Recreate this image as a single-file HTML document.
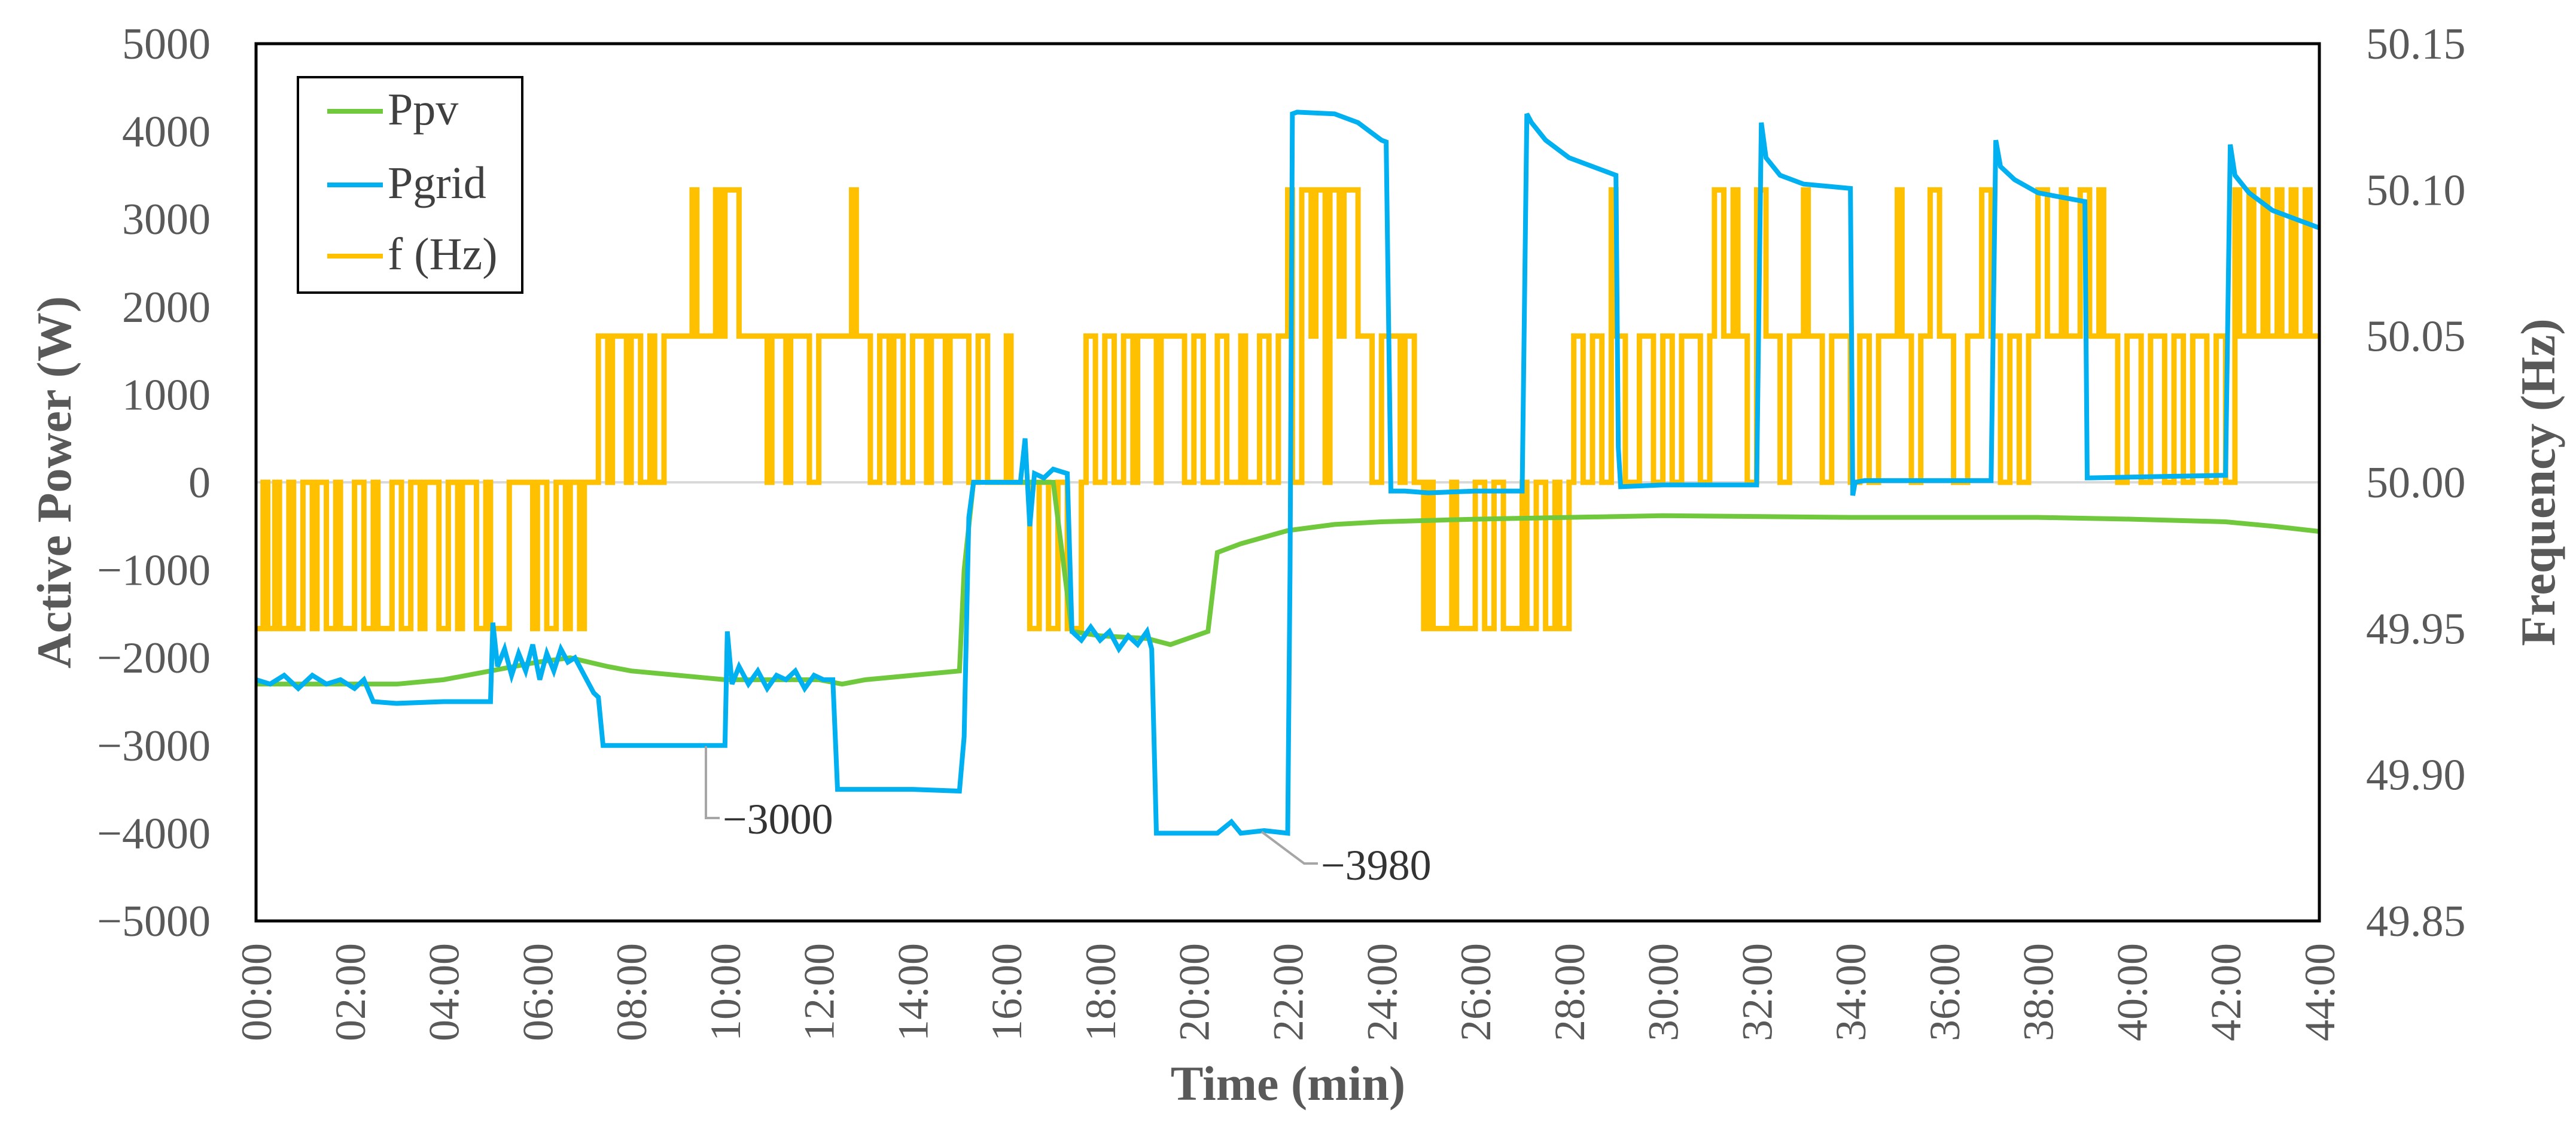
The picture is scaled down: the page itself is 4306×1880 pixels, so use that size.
<!DOCTYPE html>
<html><head><meta charset="utf-8"><style>
html,body{margin:0;padding:0;background:#fff;}
svg{display:block;font-family:"Liberation Serif",serif;}
</style></head><body>
<svg id="chart" width="4306" height="1880" viewBox="0 0 4306 1880" xmlns="http://www.w3.org/2000/svg">
<g id="grid"></g>
<g id="series"></g>
<rect x="428" y="73" width="3449" height="1466" fill="none" stroke="#000" stroke-width="5"/>
<g id="ticks" font-size="74" fill="#595959"></g>
<text transform="translate(118,806) rotate(-90)" text-anchor="middle" font-size="82" font-weight="bold" fill="#595959">Active Power (W)</text>
<text transform="translate(4270,806) rotate(-90)" text-anchor="middle" font-size="82" font-weight="bold" fill="#595959">Frequency (Hz)</text>
<text x="2153" y="1838" text-anchor="middle" font-size="82" font-weight="bold" fill="#595959">Time (min)</text>
<g>
<polyline points="1180,1247 1180,1367 1203,1367" fill="none" stroke="#a6a6a6" stroke-width="4"/>
<text x="1208" y="1393" font-size="72" fill="#333">−3000</text>
</g>
<g>
<polyline points="2109,1390 2180,1443 2203,1443" fill="none" stroke="#a6a6a6" stroke-width="4"/>
<text x="2208" y="1470" font-size="72" fill="#333">−3980</text>
</g>
<g>
<rect x="498" y="129" width="375" height="360" fill="#fff" stroke="#000" stroke-width="4"/>
<g><line x1="547" y1="186" x2="640" y2="186" stroke="#70C83C" stroke-width="8"/><text x="648" y="208" font-size="76" fill="#404040">Ppv</text></g>
<g><line x1="547" y1="309" x2="640" y2="309" stroke="#00B0F0" stroke-width="8"/><text x="648" y="331" font-size="76" fill="#404040">Pgrid</text></g>
<g><line x1="547" y1="428" x2="640" y2="428" stroke="#FFC000" stroke-width="8"/><text x="648" y="450" font-size="76" fill="#404040">f (Hz)</text></g>
</g>
</svg>
<script>
const powerTicks = [5000,4000,3000,2000,1000,0,-1000,-2000,-3000,-4000,-5000];
const powerTickLabels = ["5000","4000","3000","2000","1000","0","\u22121000","\u22122000","\u22123000","\u22124000","\u22125000"];
const freqTicks = [50.15,50.10,50.05,50.00,49.95,49.90,49.85];
const freqTickLabels = ["50.15","50.10","50.05","50.00","49.95","49.90","49.85"];
const timeTicks = [0,2,4,6,8,10,12,14,16,18,20,22,24,26,28,30,32,34,36,38,40,42,44];
const timeTickLabels = ["00:00","02:00","04:00","06:00","08:00","10:00","12:00","14:00","16:00","18:00","20:00","22:00","24:00","26:00","28:00","30:00","32:00","34:00","36:00","38:00","40:00","42:00","44:00"];

const ppvT = [0,1,2,3,4,5,6,6.7,7.5,8,9,10,11,12,12.5,13,14,15,15.1,15.3,17,17.4,18,19,19.5,20.3,20.5,21,22,23,24,26,28,30,32,34,36,38,40,42,43,44];
const ppvV = [-2300,-2300,-2300,-2300,-2250,-2150,-2050,-2000,-2100,-2150,-2200,-2250,-2250,-2250,-2300,-2250,-2200,-2150,-1000,0,0,-1700,-1750,-1780,-1850,-1700,-800,-700,-550,-480,-450,-420,-400,-380,-390,-400,-400,-400,-420,-450,-500,-560];

const gridT = [0,0.3,0.6,0.9,1.2,1.5,1.8,2.1,2.3,2.5,3,4,5,5.05,5.15,5.3,5.45,5.6,5.75,5.9,6.05,6.2,6.35,6.5,6.65,6.8,7.0,7.15,7.2,7.3,7.4,8,9,10,10.05,10.15,10.3,10.5,10.7,10.9,11.1,11.3,11.5,11.7,11.9,12.1,12.3,12.4,13,14,15,15.1,15.2,15.3,16,16.3,16.4,16.5,16.6,16.8,17,17.3,17.4,17.6,17.8,18,18.2,18.4,18.6,18.8,19.0,19.1,19.2,19.5,20,20.5,20.8,21,21.5,22,22.05,22.1,22.2,23,23.5,24,24.1,24.2,24.5,25,26,27,27.1,27.2,27.5,28,28.5,29,29.05,29.1,30,31,32,32.1,32.2,32.5,33,34,34.05,34.1,34.3,35,36,37,37.1,37.2,37.5,38,38.5,39,39.05,39.1,40,41,42,42.1,42.2,42.5,43,43.5,44];
const gridV = [-2250,-2300,-2200,-2350,-2200,-2300,-2250,-2350,-2250,-2500,-2520,-2500,-2500,-1600,-2100,-1900,-2200,-1950,-2150,-1850,-2250,-1950,-2150,-1900,-2050,-2000,-2200,-2350,-2400,-2450,-3000,-3000,-3000,-3000,-1700,-2300,-2100,-2300,-2150,-2350,-2200,-2250,-2150,-2350,-2200,-2250,-2250,-3500,-3500,-3500,-3520,-2900,-400,0,0,0,500,-500,100,50,150,100,-1700,-1800,-1650,-1800,-1700,-1900,-1750,-1850,-1700,-1900,-4000,-4000,-4000,-4000,-3870,-4000,-3970,-4000,-1000,4200,4220,4200,4100,3900,3880,-100,-100,-120,-100,-100,4200,4100,3900,3700,3600,3500,400,-50,-30,-30,-30,4100,3700,3500,3400,3350,-150,0,20,20,20,20,3900,3600,3450,3300,3250,3200,50,50,60,70,80,3850,3500,3300,3100,3000,2900];

const freqT = [0,0.15,0.25,0.4,0.5,0.7,0.8,1.0,1.2,1.3,1.5,1.7,1.8,2.1,2.3,2.5,2.6,2.9,3.1,3.3,3.5,3.6,3.9,4.1,4.3,4.4,4.7,4.9,5.0,5.4,5.9,6.0,6.2,6.4,6.6,6.7,6.9,7.0,
7.3,7.5,7.6,7.9,8.0,8.2,8.4,8.5,8.7,9.3,9.4,9.8,9.9,10.0,10.3,10.9,11.0,11.3,11.4,11.8,12.0,12.7,12.8,13.1,13.3,13.5,13.6,13.8,14.0,14.3,14.4,14.7,14.8,15.2,15.4,15.6,16.0,16.1,16.5,16.7,16.9,17.1,17.3,17.6,17.7,17.9,18.1,18.3,18.5,18.7,18.8,19.2,19.3,19.8,20.0,20.2,20.5,20.7,21.0,21.1,21.4,21.6,21.8,22.0,22.1,22.3,22.5,22.6,22.8,22.9,23.1,23.2,23.5,23.8,24.0,24.4,24.5,24.7,24.9,25.0,25.1,25.5,25.6,26.0,26.2,26.4,26.6,27.0,27.1,27.3,27.5,27.7,27.8,28.0,28.1,28.3,28.5,28.7,28.9,29.0,29.2,29.5,29.8,30.0,30.2,30.4,30.8,31.0,31.1,31.3,31.5,31.6,31.8,32.0,32.2,32.5,32.7,33.0,33.1,33.4,33.6,34.0,34.2,34.4,34.6,35.0,35.1,35.3,35.5,35.7,35.9,36.2,36.5,36.8,37.0,37.2,37.4,37.6,37.8,38.0,38.2,38.5,38.6,38.9,39.1,39.3,39.4,39.7,39.9,40.2,40.4,40.7,40.9,41.1,41.3,41.6,41.8,42.0,42.2,42.3,42.5,42.6,42.8,42.9,43.1,43.2,43.4,43.5,43.7,43.8,44.0];
const freqV = [49.95,50.00,49.95,50.00,49.95,50.00,49.95,50.00,49.95,50.00,49.95,50.00,49.95,50.00,49.95,50.00,49.95,50.00,49.95,50.00,49.95,50.00,49.95,50.00,49.95,50.00,49.95,50.00,49.95,50.00,49.95,50.00,49.95,50.00,49.95,50.00,49.95,50.00,
50.05,50.00,50.05,50.00,50.05,50.00,50.05,50.00,50.05,50.10,50.05,50.10,50.05,50.10,50.05,50.00,50.05,50.00,50.05,50.00,50.05,50.10,50.05,50.00,50.05,50.00,50.05,50.00,50.05,50.00,50.05,50.00,50.05,50.00,50.05,50.00,50.05,50.00,49.95,50.00,49.95,50.00,49.95,50.00,50.05,50.00,50.05,50.00,50.05,50.00,50.05,50.00,50.05,50.00,50.05,50.00,50.05,50.00,50.05,50.00,50.05,50.00,50.05,50.10,50.00,50.10,50.05,50.10,50.00,50.10,50.05,50.10,50.05,50.00,50.05,50.00,50.05,50.00,49.95,50.00,49.95,50.00,49.95,50.00,49.95,50.00,49.95,50.00,49.95,50.00,49.95,50.00,49.95,50.00,50.05,50.00,50.05,50.00,50.10,50.05,50.00,50.05,50.00,50.05,50.00,50.05,50.00,50.05,50.10,50.05,50.10,50.05,50.00,50.10,50.05,50.00,50.05,50.10,50.05,50.00,50.05,50.00,50.05,50.00,50.05,50.10,50.05,50.00,50.05,50.10,50.05,50.00,50.05,50.10,50.05,50.00,50.05,50.00,50.05,50.10,50.05,50.10,50.05,50.10,50.05,50.10,50.05,50.00,50.05,50.00,50.05,50.00,50.05,50.00,50.05,50.00,50.05,50.00,50.10,50.05,50.10,50.05,50.10,50.05,50.10,50.05,50.10,50.05,50.10,50.05,50.05];

const NS = "http://www.w3.org/2000/svg";
const X0 = 428, X1 = 3877, Y0 = 73, Y1 = 1539;
function xS(t){ return X0 + (t - 0) / 44 * (X1 - X0); }
function yP(p){ return Y0 + (5000 - p) / 10000 * (Y1 - Y0); }
function yF(f){ return Y0 + (50.15 - f) / 0.30 * (Y1 - Y0); }
function mk(tag, attrs, parent){ const e = document.createElementNS(NS, tag); for (const k in attrs) e.setAttribute(k, attrs[k]); parent.appendChild(e); return e; }

const grid = document.getElementById('grid');
const zl = mk('line', {x1: X0, x2: X1, y1: yP(0), y2: yP(0), stroke: '#d9d9d9', 'stroke-width': 4}, grid);



const ticks = document.getElementById('ticks');
powerTicks.forEach((v, i) => {
  const t = mk('text', {x: 352, y: yP(v) + 25, 'text-anchor': 'end'}, ticks);
  t.textContent = powerTickLabels[i];
  
  
});
freqTicks.forEach((v, i) => {
  const t = mk('text', {x: 3955, y: yF(v) + 25, 'text-anchor': 'start'}, ticks);
  t.textContent = freqTickLabels[i];
  
  
});
timeTicks.forEach((v, i) => {
  const t = mk('text', {transform: 'translate(' + (xS(v) + 25) + ',1576) rotate(-90)', 'text-anchor': 'end', 'font-size': 72}, ticks);
  t.textContent = timeTickLabels[i];
  
  
});

const series = document.getElementById('series');
let d = '';
for (let i = 0; i < freqT.length; i++) {
  const x = xS(freqT[i]), y = yF(freqV[i]);
  if (i === 0) d = 'M' + x + ',' + y;
  else d += 'L' + x + ',' + yF(freqV[i - 1]) + 'L' + x + ',' + y;
}
const fp = mk('path', {d: d, fill: 'none', stroke: '#FFC000', 'stroke-width': 9, 'stroke-linejoin': 'miter'}, series);



const pv = mk('polyline', {points: ppvT.map((t, i) => xS(t) + ',' + yP(ppvV[i])).join(' '), fill: 'none', stroke: '#70C83C', 'stroke-width': 8}, series);



const gp = mk('polyline', {points: gridT.map((t, i) => xS(t) + ',' + yP(gridV[i])).join(' '), fill: 'none', stroke: '#00B0F0', 'stroke-width': 8}, series);


</script>
</body></html>
